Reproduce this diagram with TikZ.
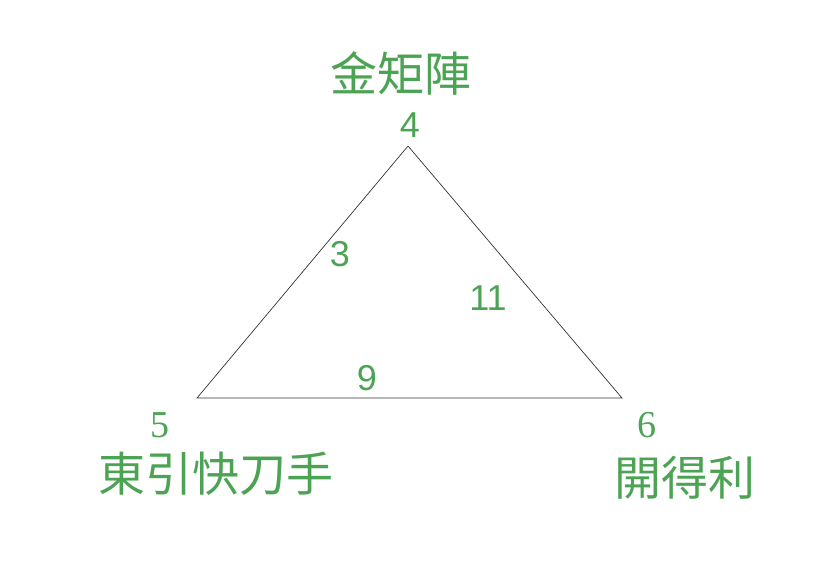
\documentclass[tikz,border=0pt]{standalone}
\usepackage{fontspec}
\setmainfont{Liberation Serif}
\newfontfamily\cjkfont{Noto Sans CJK TC}
\newfontfamily\arialfont{Liberation Sans}
\usepackage{xcolor}
\definecolor{labelgreen}{RGB}{77,163,84}
\usetikzlibrary{positioning}

\begin{document}
\begin{tikzpicture}[
    x=1pt, y=-1pt,
    edge/.style={draw=black!80, line width=0.7pt},
    cjklabel/.style={text=labelgreen, inner sep=0pt, font=\cjkfont\fontsize{47}{47}\selectfont},
    vnum/.style={text=labelgreen, inner sep=0pt, font=\fontsize{38}{38}\selectfont},
    wnum/.style={text=labelgreen, inner sep=0pt, font=\arialfont\fontsize{36}{36}\selectfont}
]
\useasboundingbox (0,0) rectangle (834,563);

% Vertices
\coordinate (top) at (408,146);
\coordinate (left) at (197,398);
\coordinate (right) at (622,398);

% Edges
\draw[edge] (top) -- (left) -- (right) -- (top);

% Vertex labels
\node[wnum] (n4) at (410,125) {4};
\node[cjklabel] (jin) at (401,73) {金矩陣};
\node[vnum] (n5) at (160,425) {5};
\node[cjklabel] (dong) at (216,474) {東引快刀手};
\node[vnum] (n6) at (647,425) {6};
\node[cjklabel] (kai) at (685,478) {開得利};

% Weights
\node[wnum] (w3) at (340,254) {3};
\node[wnum] (w11) at (488,298) {11};
\node[wnum] (w9) at (367,378) {9};

\end{tikzpicture}
\end{document}
